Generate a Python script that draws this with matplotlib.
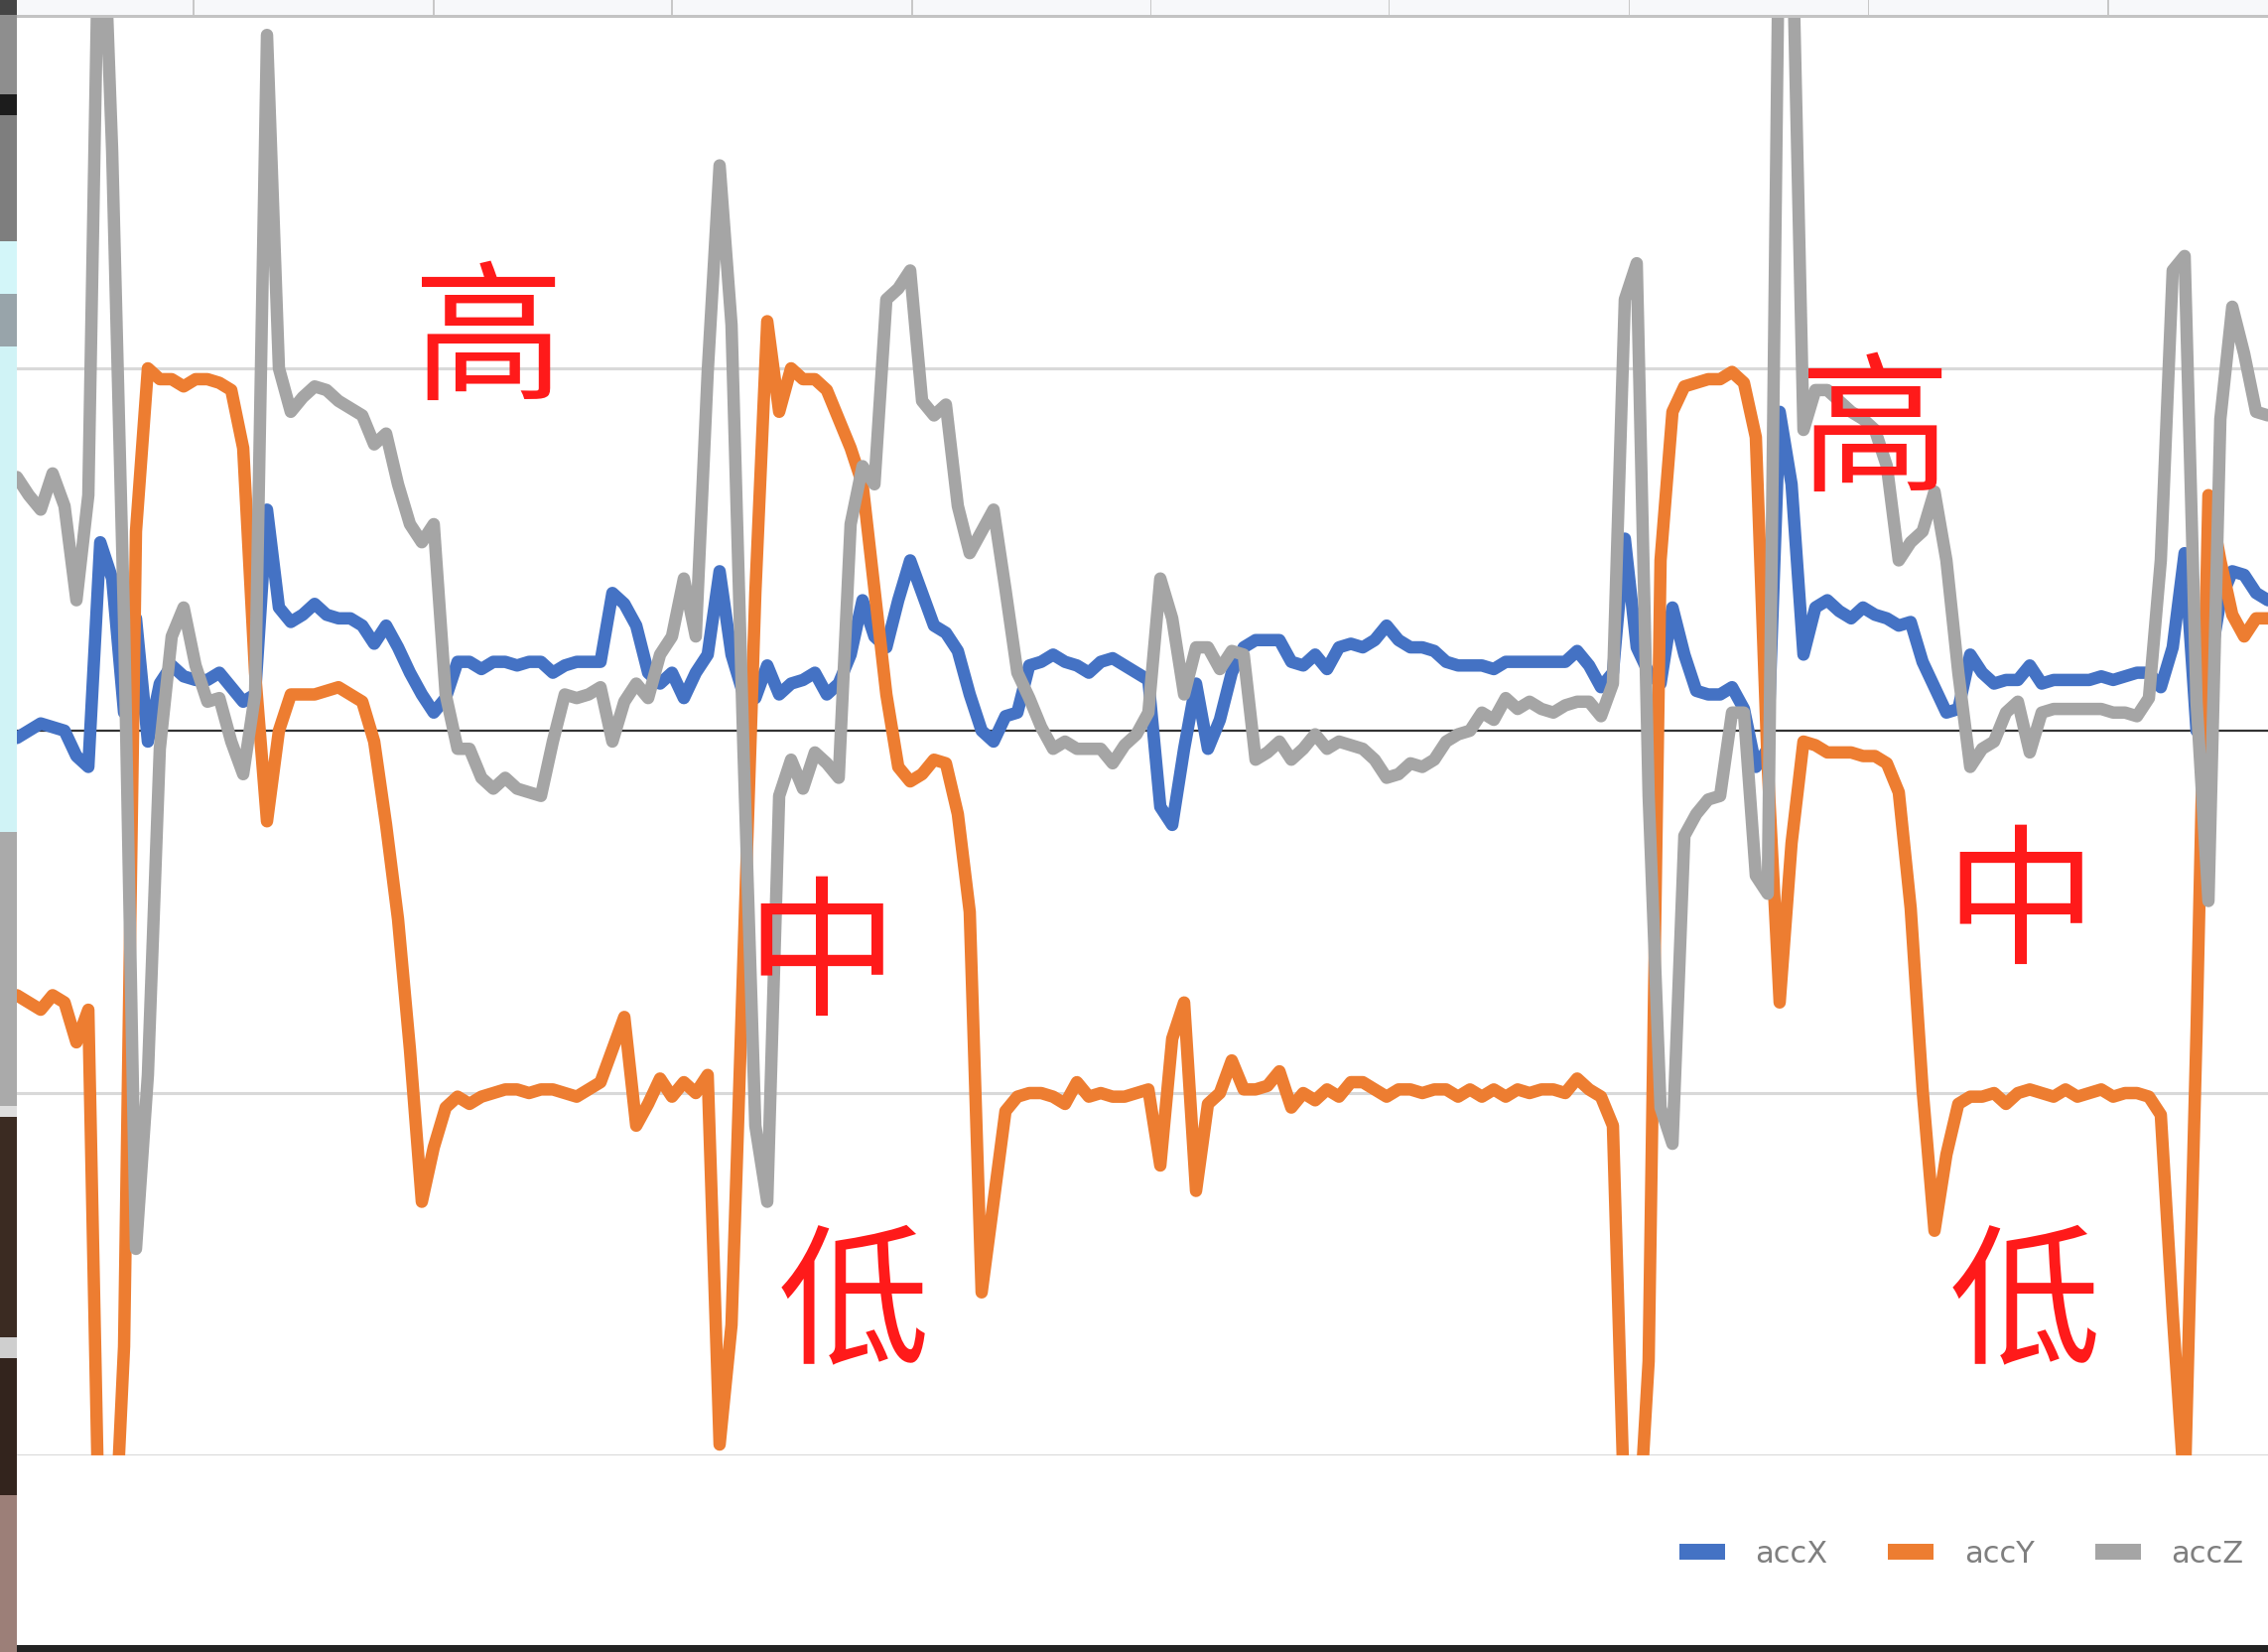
import numpy as np
import matplotlib
matplotlib.use('Agg')
import matplotlib.pyplot as plt
from matplotlib.patches import Rectangle
from matplotlib.lines import Line2D

# accelerometer readings (g), one value per sample
acc_x = [-0.02, 0.00, 0.02, 0.01, 0.00, -0.07, -0.10, 0.52, 0.42, 0.05,
         0.31, -0.03, 0.13, 0.18, 0.15, 0.14, 0.14, 0.16, 0.12, 0.08,
         0.10, 0.61, 0.34, 0.30, 0.32, 0.35, 0.32, 0.31, 0.31, 0.29,
         0.24, 0.29, 0.23, 0.16, 0.10, 0.05, 0.09, 0.19, 0.19, 0.17,
         0.19, 0.19, 0.18, 0.19, 0.19, 0.16, 0.18, 0.19, 0.19, 0.19,
         0.38, 0.35, 0.29, 0.16, 0.13, 0.16, 0.09, 0.16, 0.21, 0.44,
         0.21, 0.10, 0.09, 0.18, 0.10, 0.13, 0.14, 0.16, 0.10, 0.13,
         0.21, 0.36, 0.26, 0.23, 0.36, 0.47, 0.38, 0.29, 0.27, 0.22,
         0.10, 0.00, -0.03, 0.04, 0.05, 0.18, 0.19, 0.21, 0.19, 0.18,
         0.16, 0.19, 0.20, 0.18, 0.16, 0.14, -0.21, -0.26, -0.05, 0.13,
         -0.05, 0.03, 0.16, 0.23, 0.25, 0.25, 0.25, 0.19, 0.18, 0.21,
         0.17, 0.23, 0.24, 0.23, 0.25, 0.29, 0.25, 0.23, 0.23, 0.22,
         0.19, 0.18, 0.18, 0.18, 0.17, 0.19, 0.19, 0.19, 0.19, 0.19,
         0.19, 0.22, 0.18, 0.12, 0.16, 0.53, 0.23, 0.16, 0.13, 0.34,
         0.21, 0.11, 0.10, 0.10, 0.12, 0.06, -0.10, -0.05, 0.88, 0.68,
         0.21, 0.34, 0.36, 0.33, 0.31, 0.34, 0.32, 0.31, 0.29, 0.30,
         0.19, 0.12, 0.05, 0.06, 0.21, 0.16, 0.13, 0.14, 0.14, 0.18,
         0.13, 0.14, 0.14, 0.14, 0.14, 0.15, 0.14, 0.15, 0.16, 0.16,
         0.12, 0.23, 0.49, 0.00, 0.16, 0.36, 0.44, 0.43, 0.38, 0.36]

acc_y = [-0.73, -0.75, -0.77, -0.73, -0.75, -0.86, -0.77, -2.40, -2.40, -1.70,
         0.55, 1.00, 0.97, 0.97, 0.95, 0.97, 0.97, 0.96, 0.94, 0.78,
         0.16, -0.25, 0.00, 0.10, 0.10, 0.10, 0.11, 0.12, 0.10, 0.08,
         -0.03, -0.26, -0.52, -0.88, -1.30, -1.15, -1.04, -1.01, -1.03, -1.01,
         -1.00, -0.99, -0.99, -1.00, -0.99, -0.99, -1.00, -1.01, -0.99, -0.97,
         -0.88, -0.79, -1.09, -1.03, -0.96, -1.01, -0.97, -1.00, -0.95, -1.97,
         -1.64, -0.63, 0.38, 1.13, 0.88, 1.00, 0.97, 0.97, 0.94, 0.86,
         0.78, 0.68, 0.39, 0.10, -0.10, -0.14, -0.12, -0.08, -0.09, -0.23,
         -0.50, -1.55, -1.30, -1.05, -1.01, -1.00, -1.00, -1.01, -1.03, -0.97,
         -1.01, -1.00, -1.01, -1.01, -1.00, -0.99, -1.20, -0.85, -0.75, -1.27,
         -1.03, -1.00, -0.91, -0.99, -0.99, -0.98, -0.94, -1.04, -1.00, -1.02,
         -0.99, -1.01, -0.97, -0.97, -0.99, -1.01, -0.99, -0.99, -1.00, -0.99,
         -0.99, -1.01, -0.99, -1.01, -0.99, -1.01, -0.99, -1.00, -0.99, -0.99,
         -1.00, -0.96, -0.99, -1.01, -1.09, -2.20, -2.30, -1.74, 0.47, 0.88,
         0.95, 0.96, 0.97, 0.97, 0.99, 0.96, 0.81, -0.10, -0.75, -0.31,
         -0.03, -0.04, -0.06, -0.06, -0.06, -0.07, -0.07, -0.09, -0.17, -0.49,
         -0.99, -1.38, -1.17, -1.03, -1.01, -1.01, -1.00, -1.03, -1.00, -0.99,
         -1.00, -1.01, -0.99, -1.01, -1.00, -0.99, -1.01, -1.00, -1.00, -1.01,
         -1.06, -1.61, -2.10, -0.83, 0.65, 0.47, 0.32, 0.26, 0.31, 0.31]

acc_z = [0.70, 0.65, 0.61, 0.71, 0.62, 0.36, 0.65, 2.50, 1.60, 0.30,
         -1.43, -0.95, -0.05, 0.26, 0.34, 0.18, 0.08, 0.09, -0.03, -0.12,
         0.10, 1.92, 1.00, 0.88, 0.92, 0.95, 0.94, 0.91, 0.89, 0.87,
         0.79, 0.82, 0.68, 0.57, 0.52, 0.57, 0.10, -0.05, -0.05, -0.13,
         -0.16, -0.13, -0.16, -0.17, -0.18, -0.03, 0.10, 0.09, 0.10, 0.12,
         -0.03, 0.08, 0.13, 0.09, 0.21, 0.26, 0.42, 0.26, 0.99, 1.56,
         1.12, -0.05, -1.09, -1.30, -0.18, -0.08, -0.16, -0.06, -0.09, -0.13,
         0.57, 0.73, 0.68, 1.19, 1.22, 1.27, 0.91, 0.87, 0.90, 0.62,
         0.49, 0.55, 0.61, 0.39, 0.16, 0.09, 0.01, -0.05, -0.03, -0.05,
         -0.05, -0.05, -0.09, -0.04, -0.01, 0.05, 0.42, 0.31, 0.10, 0.23,
         0.23, 0.17, 0.22, 0.21, -0.08, -0.06, -0.03, -0.08, -0.05, -0.01,
         -0.05, -0.03, -0.04, -0.05, -0.08, -0.13, -0.12, -0.09, -0.10, -0.08,
         -0.03, -0.01, 0.00, 0.05, 0.03, 0.09, 0.06, 0.08, 0.06, 0.05,
         0.07, 0.08, 0.08, 0.04, 0.13, 1.19, 1.29, -0.18, -1.04, -1.14,
         -0.29, -0.23, -0.19, -0.18, 0.05, 0.05, -0.40, -0.45, 2.40, 2.30,
         0.83, 0.94, 0.94, 0.91, 0.88, 0.86, 0.83, 0.73, 0.47, 0.52,
         0.55, 0.66, 0.47, 0.16, -0.10, -0.05, -0.03, 0.05, 0.08, -0.06,
         0.05, 0.06, 0.06, 0.06, 0.06, 0.06, 0.05, 0.05, 0.04, 0.09,
         0.47, 1.27, 1.31, 0.08, -0.47, 0.86, 1.17, 1.04, 0.88, 0.87]

series_names = ['accX', 'accY', 'accZ']
series_colors = ['#4472C4', '#ED7D31', '#A5A5A5']
grid_values = [-2, -1, 1, 2]
marks = ['高', '中', '低', '高', '中', '低']

W, H = 2285, 1665
fig = plt.figure(figsize=(W / 100, H / 100), dpi=100)
fig.patch.set_facecolor('white')


def fx(px):
    return px / W


def fy(py):
    return 1 - py / H


ax = fig.add_axes([fx(17), fy(1467), 1 - fx(17), (1467 - 7) / H])
ax.set_axis_off()

x = np.arange(len(acc_x))
for vals, name, col in zip([acc_x, acc_y, acc_z], series_names, series_colors):
    ax.plot(x, vals, color=col, lw=9, label=name,
            solid_joinstyle='round', solid_capstyle='round', zorder=3)

for g in grid_values:
    ax.axhline(g, color='#d9d9d9', lw=2.2, zorder=1)
ax.axhline(0, color='#333333', lw=1.6, zorder=2)
ax.set_xlim(0, len(acc_x) - 1)
ax.set_ylim(-2, 2)

# legend
handles = [Line2D([], [], color=c, lw=11.5, solid_capstyle='butt') for c in series_colors]
ax.legend(handles, series_names, loc='center', bbox_to_anchor=(fx(1976), fy(1566)),
          bbox_transform=fig.transFigure, ncol=3, frameon=False,
          prop={'family': ['Liberation Sans Narrow', 'DejaVu Sans'], 'size': 22},
          labelcolor='#7f7f7f', handlelength=1.5, handletextpad=1.0,
          columnspacing=2.0)

# red handwritten marks
mark_pos = [(492, 348), (828, 968), (860, 1318), (1889, 440), (2036, 916), (2040, 1318)]
for ch, (px, py) in zip(marks, mark_pos):
    fig.text(fx(px), fy(py), ch, fontsize=110, color='#ff1a1a', ha='center', va='center',
             family=['Noto Sans CJK SC', 'DejaVu Sans'], zorder=6)

# screenshot surroundings: spreadsheet header, left photo strip, bottom bar
def box(x0, y0, x1, y1, color, z=5):
    fig.add_artist(Rectangle((fx(x0), fy(y1)), (x1 - x0) / W, (y1 - y0) / H,
                             transform=fig.transFigure, facecolor=color,
                             edgecolor='none', zorder=z))

box(0, 0, W, 19, '#f7f8fa')
box(0, 16, W, 19, '#c3c3c3', 6)
box(0, 0, W, 1, '#2a2a2a', 6)
box(510, 0, 1428, 1, '#c9a94e', 6)
for sx in [194, 436, 676, 918, 1159, 1399, 1641, 1882, 2123]:
    box(sx, 1, sx + 1.5, 16, '#c8c8c8', 6)

strip = [(0, 16, '#454545'), (16, 96, '#8e8e8e'), (96, 117, '#1c1c1c'),
         (117, 244, '#7e7e7e'), (244, 297, '#d3f6f9'), (297, 350, '#98a4aa'),
         (350, 839, '#d0f3f6'), (839, 1115, '#aaaaaa'), (1115, 1126, '#dedede'),
         (1126, 1348, '#3b2b22'), (1348, 1369, '#cfcfcf'), (1369, 1507, '#33241d'),
         (1507, 1665, '#9c7f78')]
for y0, y1, c in strip:
    box(0, y0, 17, y1, c, 7)
box(17, 1658, W, H, '#232323', 7)

fig.savefig('out.png', dpi=100, facecolor='white')
